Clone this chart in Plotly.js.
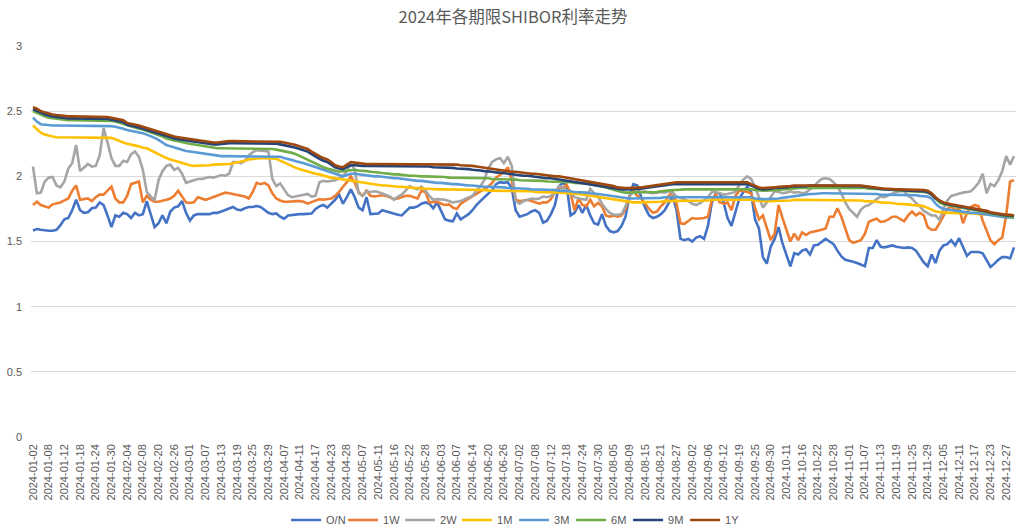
<!DOCTYPE html>
<html><head><meta charset="utf-8">
<script src="https://cdn.plot.ly/plotly-3.0.1.min.js"></script>
<style>html,body{margin:0;padding:0;background:#fff}#chart{width:1022px;height:529px}</style>
</head><body><div id="chart"></div>
<script>
// trading days of 2024 (by month)
const months = ["01","02","03","04","05","06","07","08","09","10","11","12"];
const monthDays = [
  [2,3,4,5,8,9,10,11,12,15,16,17,18,19,22,23,24,25,26,29,30,31],
  [1,2,4,5,6,7,8,9,18,19,20,21,22,23,26,27,28,29],
  [1,4,5,6,7,8,11,12,13,14,15,18,19,20,21,22,25,26,27,28,29],
  [1,2,3,7,8,9,10,11,12,15,16,17,18,19,22,23,24,25,26,28,29,30],
  [6,7,8,9,10,11,13,14,15,16,17,20,21,22,23,24,27,28,29,30,31],
  [3,4,5,6,7,11,12,13,14,17,18,19,20,21,24,25,26,27,28],
  [1,2,3,4,5,8,9,10,11,12,15,16,17,18,19,22,23,24,25,26,29,30,31],
  [1,2,5,6,7,8,9,12,13,14,15,16,19,20,21,22,23,26,27,28,29,30],
  [2,3,4,5,6,9,10,11,12,13,14,18,19,20,23,24,25,26,27,29,30],
  [8,9,10,11,12,14,15,16,17,18,21,22,23,24,25,28,29,30,31],
  [1,4,5,6,7,8,11,12,13,14,15,18,19,20,21,22,25,26,27,28,29],
  [2,3,4,5,6,9,10,11,12,13,16,17,18,19,20,23,24,25,26,27,30,31]
];
const dates = [];
months.forEach((m, k) => monthDays[k].forEach(d => dates.push("2024-" + m + "-" + String(d).padStart(2, "0"))));

const seriesNames = ["O/N","1W","2W","1M","3M","6M","9M","1Y"];
const seriesColors = ["#4472C4","#ED7D31","#A5A5A5","#FFC000","#5B9BD5","#70AD47","#264478","#9E480E"];

const ON = [
1.585,1.596,1.59,1.585,1.583,1.583,1.59,1.625,1.67,1.68,
1.74,1.82,1.74,1.72,1.725,1.755,1.76,1.80,1.78,1.70,
1.61,1.70,1.69,1.72,1.71,1.68,1.72,1.70,1.71,1.81,
1.70,1.61,1.64,1.70,1.64,1.73,1.76,1.77,1.81,1.72,
1.66,1.70,1.71,1.71,1.71,1.71,1.72,1.72,1.73,1.74,
1.755,1.765,1.745,1.74,1.755,1.765,1.765,1.772,1.765,1.74,
1.72,1.71,1.715,1.69,1.675,1.70,1.705,1.71,1.71,1.71,
1.71,1.715,1.75,1.77,1.78,1.76,1.79,1.82,1.86,1.79,
1.84,1.90,1.84,1.76,1.74,1.84,1.71,1.715,1.715,1.74,
1.73,1.72,1.71,1.705,1.70,1.73,1.76,1.76,1.77,1.79,
1.80,1.79,1.755,1.80,1.73,1.67,1.66,1.655,1.715,1.67,
1.69,1.71,1.74,1.78,1.81,1.84,1.87,1.895,1.94,1.955,
1.95,1.955,1.91,1.74,1.69,1.70,1.71,1.73,1.74,1.72,
1.645,1.66,1.71,1.78,1.92,1.95,1.93,1.70,1.72,1.78,
1.72,1.78,1.70,1.64,1.63,1.71,1.62,1.58,1.57,1.58,
1.62,1.69,1.85,1.94,1.93,1.84,1.76,1.70,1.68,1.69,
1.71,1.74,1.80,1.85,1.74,1.52,1.51,1.52,1.50,1.53,
1.54,1.52,1.62,1.80,1.87,1.87,1.80,1.68,1.62,1.73,
1.83,1.88,1.92,1.88,1.67,1.60,1.38,1.33,1.46,1.52,
1.61,1.485,1.40,1.31,1.41,1.40,1.43,1.44,1.40,1.47,
1.475,1.50,1.52,1.50,1.48,1.43,1.385,1.36,1.355,1.345,
1.335,1.325,1.31,1.45,1.45,1.51,1.46,1.455,1.465,1.47,
1.46,1.455,1.45,1.455,1.45,1.43,1.38,1.34,1.31,1.40,
1.335,1.43,1.47,1.48,1.51,1.47,1.525,1.46,1.39,1.42,
1.42,1.42,1.41,1.36,1.305,1.33,1.36,1.38,1.38,1.37,
1.455];

const W1 = [
1.78,1.805,1.78,1.77,1.76,1.785,1.79,1.80,1.815,1.83,
1.89,1.93,1.82,1.825,1.83,1.81,1.84,1.86,1.86,1.89,
1.92,1.83,1.80,1.80,1.85,1.94,1.95,1.96,1.80,1.85,
1.82,1.805,1.805,1.81,1.82,1.83,1.85,1.89,1.84,1.80,
1.795,1.80,1.84,1.83,1.82,1.83,1.84,1.85,1.865,1.875,
1.87,1.865,1.86,1.85,1.845,1.83,1.88,1.95,1.94,1.95,
1.93,1.87,1.83,1.815,1.805,1.805,1.81,1.81,1.81,1.805,
1.79,1.80,1.815,1.825,1.82,1.825,1.83,1.85,1.88,1.92,
1.955,2.00,1.95,1.88,1.85,1.89,1.85,1.845,1.85,1.855,
1.85,1.84,1.825,1.83,1.84,1.85,1.85,1.84,1.83,1.89,
1.88,1.80,1.80,1.805,1.79,1.78,1.785,1.76,1.75,1.79,
1.81,1.83,1.85,1.87,1.885,1.90,1.92,1.95,1.99,2.01,
2.03,2.07,1.97,1.82,1.81,1.815,1.82,1.81,1.80,1.79,
1.80,1.80,1.825,1.88,1.915,1.91,1.935,1.87,1.74,1.83,
1.78,1.77,1.82,1.77,1.795,1.77,1.70,1.69,1.70,1.69,
1.70,1.75,1.85,1.89,1.85,1.83,1.79,1.75,1.72,1.73,
1.77,1.80,1.85,1.88,1.79,1.64,1.635,1.66,1.68,1.675,
1.675,1.68,1.69,1.82,1.86,1.80,1.79,1.80,1.74,1.85,
1.89,1.89,1.88,1.87,1.76,1.67,1.70,1.60,1.51,1.56,
1.78,1.68,1.58,1.50,1.56,1.51,1.57,1.55,1.57,1.575,
1.585,1.59,1.60,1.69,1.69,1.755,1.69,1.60,1.51,1.49,
1.50,1.51,1.56,1.65,1.665,1.675,1.65,1.655,1.67,1.69,
1.69,1.67,1.655,1.70,1.73,1.70,1.72,1.70,1.61,1.59,
1.59,1.64,1.70,1.75,1.77,1.74,1.76,1.64,1.72,1.765,
1.78,1.77,1.66,1.58,1.51,1.48,1.51,1.53,1.70,1.96,
1.97];

const W2 = [
2.075,1.87,1.875,1.96,1.99,1.995,1.93,1.915,1.96,2.06,
2.10,2.24,2.04,2.07,2.095,2.075,2.08,2.16,2.37,2.26,
2.14,2.08,2.08,2.12,2.11,2.17,2.19,2.15,2.05,1.88,
1.845,1.82,1.97,2.04,2.08,2.09,2.05,2.065,2.02,1.95,
1.96,1.975,1.98,1.98,1.99,1.995,1.99,2.00,2.01,2.005,
2.02,2.11,2.11,2.10,2.12,2.16,2.185,2.20,2.20,2.195,
2.19,1.98,1.925,1.945,1.90,1.855,1.84,1.845,1.85,1.86,
1.865,1.845,1.85,1.955,1.965,1.96,1.965,1.97,1.985,2.00,
2.04,2.10,2.05,1.87,1.85,1.885,1.88,1.885,1.88,1.87,
1.855,1.845,1.82,1.845,1.86,1.89,1.925,1.91,1.90,1.92,
1.89,1.85,1.82,1.825,1.825,1.82,1.81,1.80,1.805,1.81,
1.825,1.835,1.85,1.89,1.925,1.97,2.06,2.11,2.13,2.14,
2.10,2.15,2.08,1.81,1.79,1.81,1.82,1.83,1.825,1.83,
1.845,1.84,1.85,1.87,1.925,1.915,1.89,1.87,1.84,1.83,
1.825,1.82,1.905,1.87,1.845,1.79,1.75,1.72,1.705,1.705,
1.71,1.77,1.85,1.88,1.885,1.88,1.885,1.875,1.87,1.875,
1.88,1.875,1.885,1.875,1.845,1.835,1.825,1.81,1.79,1.78,
1.795,1.815,1.84,1.88,1.88,1.87,1.86,1.865,1.875,1.88,
1.935,1.975,2.00,1.98,1.92,1.84,1.76,1.80,1.84,1.885,
1.88,1.87,1.875,1.885,1.875,1.88,1.87,1.875,1.90,1.92,
1.955,1.98,1.985,1.98,1.955,1.92,1.87,1.80,1.75,1.72,
1.69,1.745,1.77,1.78,1.805,1.825,1.845,1.84,1.855,1.87,
1.88,1.885,1.885,1.85,1.83,1.795,1.77,1.735,1.715,1.70,
1.70,1.665,1.75,1.815,1.85,1.86,1.865,1.875,1.88,1.885,
1.915,1.95,2.02,1.87,1.94,1.925,1.97,2.04,2.155,2.09,
2.155];

const M1 = [
2.39,2.36,2.335,2.32,2.31,2.305,2.30,2.30,2.30,2.30,
2.30,2.30,2.30,2.30,2.30,2.30,2.30,2.30,2.30,2.30,
2.295,2.285,2.27,2.26,2.25,2.245,2.235,2.23,2.22,2.215,
2.20,2.185,2.165,2.15,2.14,2.13,2.12,2.11,2.10,2.09,
2.085,2.08,2.08,2.08,2.085,2.085,2.09,2.09,2.095,2.095,
2.095,2.10,2.105,2.115,2.12,2.13,2.135,2.14,2.14,2.14,
2.14,2.14,2.135,2.12,2.105,2.09,2.075,2.065,2.055,2.045,
2.035,2.03,2.02,2.015,2.005,2.00,1.99,1.985,1.98,1.975,
1.97,1.965,1.965,1.96,1.955,1.95,1.945,1.94,1.935,1.93,
1.93,1.925,1.925,1.92,1.92,1.915,1.915,1.91,1.91,1.905,
1.905,1.905,1.90,1.90,1.90,1.90,1.90,1.90,1.90,1.90,
1.90,1.895,1.895,1.895,1.895,1.895,1.89,1.89,1.89,1.89,
1.89,1.89,1.885,1.885,1.885,1.885,1.885,1.885,1.88,1.88,
1.88,1.88,1.88,1.88,1.875,1.875,1.87,1.87,1.865,1.865,
1.86,1.855,1.855,1.85,1.845,1.84,1.835,1.83,1.825,1.815,
1.81,1.805,1.80,1.80,1.80,1.80,1.805,1.805,1.805,1.805,
1.805,1.81,1.81,1.81,1.81,1.81,1.81,1.81,1.815,1.815,
1.815,1.815,1.815,1.82,1.82,1.82,1.82,1.82,1.825,1.825,
1.825,1.825,1.825,1.82,1.815,1.81,1.81,1.81,1.81,1.81,
1.815,1.815,1.815,1.815,1.82,1.82,1.82,1.82,1.82,1.82,
1.82,1.82,1.82,1.82,1.82,1.82,1.82,1.82,1.82,1.82,
1.815,1.815,1.81,1.81,1.805,1.805,1.80,1.80,1.795,1.795,
1.79,1.79,1.785,1.785,1.78,1.78,1.775,1.77,1.76,1.745,
1.73,1.725,1.72,1.72,1.72,1.72,1.72,1.715,1.715,1.715,
1.715,1.71,1.71,1.71,1.71,1.705,1.705,1.705,1.70,1.70,
1.70];

const M3 = [
2.45,2.42,2.40,2.395,2.39,2.39,2.39,2.39,2.39,2.39,
2.39,2.39,2.39,2.39,2.39,2.39,2.39,2.39,2.39,2.39,
2.385,2.38,2.375,2.365,2.355,2.35,2.345,2.34,2.33,2.32,
2.31,2.295,2.28,2.26,2.24,2.23,2.22,2.21,2.20,2.195,
2.19,2.185,2.18,2.175,2.17,2.165,2.16,2.16,2.155,2.155,
2.155,2.155,2.155,2.155,2.155,2.155,2.155,2.155,2.155,2.155,
2.155,2.155,2.155,2.15,2.14,2.135,2.125,2.115,2.11,2.10,
2.09,2.08,2.07,2.055,2.045,2.035,2.025,2.015,2.005,2.00,
2.01,2.02,2.02,2.015,2.01,2.01,2.005,2.00,2.00,1.995,
1.99,1.99,1.985,1.985,1.98,1.975,1.97,1.97,1.965,1.965,
1.96,1.955,1.955,1.95,1.95,1.945,1.945,1.94,1.94,1.935,
1.935,1.93,1.93,1.925,1.925,1.92,1.92,1.92,1.915,1.915,
1.915,1.91,1.91,1.91,1.905,1.905,1.905,1.90,1.90,1.90,
1.90,1.895,1.895,1.895,1.89,1.89,1.885,1.885,1.88,1.88,
1.875,1.875,1.87,1.87,1.865,1.86,1.855,1.85,1.845,1.84,
1.84,1.835,1.83,1.83,1.83,1.83,1.83,1.83,1.835,1.835,
1.835,1.84,1.84,1.84,1.845,1.845,1.845,1.845,1.845,1.845,
1.845,1.845,1.845,1.845,1.845,1.845,1.845,1.845,1.845,1.845,
1.845,1.845,1.845,1.84,1.83,1.825,1.825,1.825,1.825,1.83,
1.83,1.835,1.84,1.845,1.85,1.855,1.86,1.86,1.865,1.865,
1.87,1.87,1.87,1.87,1.87,1.87,1.87,1.87,1.87,1.87,
1.87,1.87,1.865,1.865,1.865,1.865,1.86,1.86,1.86,1.86,
1.86,1.855,1.855,1.855,1.855,1.855,1.85,1.85,1.845,1.83,
1.79,1.765,1.75,1.745,1.74,1.735,1.73,1.73,1.725,1.72,
1.72,1.715,1.71,1.705,1.70,1.70,1.695,1.69,1.685,1.685,
1.68];

const M6 = [
2.50,2.485,2.47,2.46,2.45,2.445,2.44,2.435,2.435,2.43,
2.43,2.43,2.43,2.43,2.43,2.43,2.43,2.43,2.43,2.43,
2.425,2.42,2.41,2.40,2.39,2.38,2.375,2.365,2.36,2.35,
2.34,2.33,2.315,2.305,2.29,2.28,2.275,2.27,2.26,2.255,
2.25,2.245,2.235,2.23,2.225,2.22,2.215,2.215,2.215,2.215,
2.215,2.215,2.215,2.215,2.215,2.215,2.215,2.215,2.215,2.215,
2.215,2.21,2.205,2.20,2.195,2.185,2.18,2.17,2.155,2.14,
2.125,2.11,2.10,2.085,2.07,2.06,2.05,2.04,2.035,2.04,
2.045,2.05,2.05,2.045,2.045,2.04,2.035,2.035,2.03,2.025,
2.02,2.02,2.015,2.015,2.01,2.01,2.005,2.005,2.00,2.00,
2.00,2.00,1.995,1.995,1.995,1.995,1.99,1.99,1.99,1.99,
1.99,1.99,1.985,1.985,1.985,1.985,1.985,1.98,1.98,1.98,
1.98,1.975,1.975,1.975,1.97,1.97,1.97,1.965,1.965,1.965,
1.965,1.96,1.96,1.96,1.96,1.955,1.955,1.955,1.95,1.95,
1.95,1.945,1.94,1.935,1.93,1.925,1.915,1.905,1.895,1.885,
1.88,1.875,1.875,1.875,1.875,1.875,1.88,1.88,1.88,1.88,
1.885,1.89,1.89,1.895,1.895,1.90,1.90,1.90,1.90,1.90,
1.905,1.905,1.905,1.905,1.905,1.905,1.905,1.905,1.905,1.905,
1.905,1.905,1.905,1.90,1.895,1.89,1.89,1.89,1.89,1.895,
1.895,1.90,1.90,1.905,1.905,1.91,1.91,1.91,1.915,1.915,
1.915,1.915,1.915,1.915,1.915,1.915,1.915,1.915,1.915,1.915,
1.915,1.91,1.91,1.905,1.905,1.905,1.90,1.90,1.90,1.895,
1.895,1.89,1.89,1.885,1.885,1.885,1.88,1.88,1.875,1.86,
1.83,1.80,1.785,1.78,1.775,1.77,1.765,1.76,1.755,1.75,
1.74,1.735,1.73,1.725,1.715,1.71,1.70,1.695,1.69,1.69,
1.685];

const M9 = [
2.515,2.505,2.49,2.475,2.465,2.46,2.455,2.45,2.45,2.445,
2.445,2.445,2.445,2.445,2.445,2.445,2.445,2.44,2.44,2.44,
2.435,2.43,2.425,2.415,2.395,2.39,2.385,2.375,2.365,2.355,
2.345,2.335,2.325,2.315,2.305,2.295,2.29,2.285,2.28,2.275,
2.275,2.265,2.26,2.255,2.25,2.245,2.245,2.245,2.25,2.255,
2.255,2.255,2.255,2.255,2.255,2.255,2.255,2.255,2.255,2.255,
2.255,2.255,2.25,2.245,2.24,2.235,2.23,2.22,2.21,2.20,
2.19,2.17,2.15,2.135,2.12,2.11,2.09,2.07,2.06,2.055,
2.07,2.085,2.085,2.08,2.08,2.08,2.08,2.08,2.08,2.08,
2.08,2.08,2.08,2.08,2.08,2.075,2.075,2.075,2.075,2.075,
2.075,2.075,2.07,2.07,2.07,2.07,2.065,2.065,2.06,2.06,
2.055,2.055,2.05,2.05,2.045,2.04,2.04,2.035,2.03,2.03,
2.025,2.02,2.015,2.015,2.01,2.005,2.005,2.00,2.00,1.995,
1.99,1.985,1.985,1.98,1.98,1.975,1.97,1.965,1.96,1.955,
1.95,1.945,1.94,1.935,1.93,1.925,1.92,1.915,1.91,1.905,
1.90,1.90,1.90,1.90,1.905,1.905,1.91,1.915,1.92,1.925,
1.925,1.93,1.935,1.94,1.94,1.94,1.94,1.94,1.94,1.94,
1.94,1.94,1.94,1.94,1.94,1.94,1.94,1.94,1.94,1.94,
1.94,1.94,1.94,1.93,1.915,1.905,1.90,1.90,1.905,1.91,
1.91,1.915,1.915,1.92,1.92,1.925,1.925,1.925,1.93,1.93,
1.93,1.93,1.93,1.93,1.93,1.93,1.93,1.93,1.93,1.93,
1.925,1.925,1.92,1.915,1.915,1.91,1.905,1.90,1.90,1.895,
1.895,1.895,1.89,1.89,1.89,1.89,1.89,1.885,1.88,1.86,
1.83,1.81,1.795,1.785,1.78,1.775,1.77,1.765,1.76,1.755,
1.745,1.74,1.735,1.73,1.72,1.715,1.705,1.705,1.70,1.70,
1.695];

const Y1 = [
2.53,2.52,2.50,2.49,2.48,2.475,2.47,2.465,2.465,2.46,
2.46,2.46,2.46,2.46,2.46,2.46,2.46,2.455,2.455,2.455,
2.45,2.445,2.44,2.43,2.41,2.405,2.40,2.39,2.38,2.37,
2.36,2.35,2.34,2.33,2.32,2.31,2.305,2.30,2.295,2.29,
2.29,2.28,2.275,2.27,2.265,2.26,2.26,2.26,2.265,2.27,
2.27,2.27,2.27,2.27,2.27,2.27,2.27,2.27,2.27,2.27,
2.27,2.27,2.27,2.265,2.26,2.255,2.25,2.24,2.23,2.22,
2.21,2.19,2.17,2.155,2.14,2.13,2.11,2.085,2.075,2.07,
2.09,2.11,2.105,2.10,2.095,2.095,2.095,2.095,2.095,2.095,
2.095,2.095,2.095,2.095,2.095,2.095,2.095,2.095,2.095,2.095,
2.095,2.095,2.095,2.095,2.095,2.095,2.09,2.09,2.09,2.085,
2.085,2.08,2.08,2.075,2.07,2.065,2.06,2.055,2.05,2.05,
2.045,2.04,2.035,2.035,2.03,2.025,2.025,2.02,2.02,2.015,
2.01,2.005,2.005,2.00,2.00,1.995,1.99,1.985,1.98,1.975,
1.97,1.965,1.96,1.955,1.95,1.945,1.935,1.93,1.925,1.915,
1.91,1.91,1.91,1.91,1.915,1.915,1.92,1.925,1.93,1.935,
1.935,1.94,1.945,1.95,1.955,1.955,1.955,1.955,1.955,1.955,
1.955,1.955,1.955,1.955,1.955,1.955,1.955,1.955,1.955,1.955,
1.955,1.955,1.955,1.94,1.925,1.915,1.91,1.91,1.915,1.915,
1.92,1.92,1.925,1.925,1.93,1.93,1.935,1.935,1.935,1.935,
1.935,1.935,1.935,1.935,1.935,1.935,1.935,1.935,1.935,1.935,
1.93,1.93,1.925,1.92,1.92,1.915,1.91,1.905,1.905,1.90,
1.90,1.90,1.90,1.895,1.895,1.895,1.895,1.895,1.89,1.87,
1.84,1.815,1.80,1.79,1.785,1.78,1.775,1.77,1.765,1.76,
1.75,1.745,1.74,1.735,1.725,1.72,1.71,1.71,1.705,1.705,
1.70];

const allSeries = [ON, W1, W2, M1, M3, M6, M9, Y1];
const tickDates = dates.filter((d, i) => i % 4 === 0);

const traces = allSeries.map((vals, k) => ({
  type: "scatter", mode: "lines", name: seriesNames[k],
  x: dates, y: vals,
  line: {color: seriesColors[k], width: 2.6},
  hoverinfo: "x+y+name"
}));

const layout = {
  width: 1022, height: 529,
  margin: {l: 31, r: 6, t: 46, b: 92},
  paper_bgcolor: "#ffffff", plot_bgcolor: "#ffffff",
  font: {family: "Liberation Sans, Arial, sans-serif", color: "#595959", size: 11},
  title: {text: "2024年各期限SHIBOR利率走势", x: 0.502, xanchor: "center", y: 0.967, yanchor: "middle",
          font: {family: "Noto Sans CJK SC, sans-serif", size: 16.5, color: "#595959"}},
  xaxis: {
    type: "category", range: [-0.5, dates.length - 0.5],
    tickmode: "array", tickvals: tickDates, ticktext: tickDates,
    tickangle: -90, ticks: "", showgrid: false, zeroline: false,
    showline: false, automargin: false, ticklabelstandoff: 4,
    tickfont: {size: 11, color: "#595959"}
  },
  yaxis: {
    range: [0, 3], dtick: 0.5, tick0: 0, showgrid: true, gridcolor: "#d9d9d9", gridwidth: 1,
    zeroline: false, showline: false, ticks: "", automargin: false, ticklabelstandoff: 8,
    tickfont: {size: 11, color: "#595959"}
  },
  showlegend: true,
  legend: {orientation: "h", xref: "container", yref: "container", x: 0.503, xanchor: "center",
           y: 0.017, yanchor: "middle", entrywidth: 12, entrywidthmode: "pixels",
           font: {size: 11, color: "#595959"}, itemwidth: 30, traceorder: "normal",
           bgcolor: "rgba(0,0,0,0)"}
};

Plotly.newPlot("chart", traces, layout, {displayModeBar: false, staticPlot: true});
</script>
</body></html>
